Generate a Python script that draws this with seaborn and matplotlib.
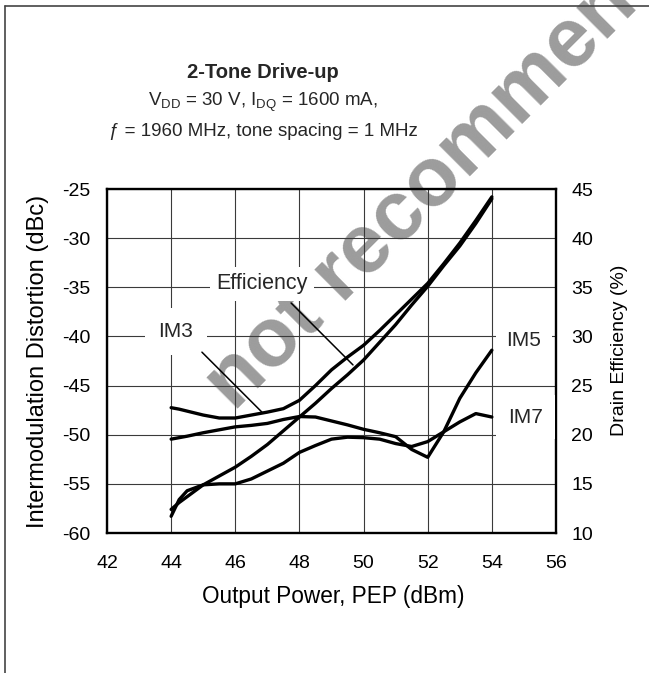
import matplotlib
matplotlib.use("Agg")
import matplotlib.pyplot as plt
from matplotlib.lines import Line2D
import pandas as pd
import seaborn as sns


# output power, PEP (dBm)
pout = [44, 44.25, 44.5, 45, 45.5, 46, 46.5, 47, 47.5, 48, 48.5, 49, 49.5,
        50, 50.5, 51, 51.5, 52, 52.5, 53, 53.5, 54]

# intermodulation distortion (dBc)
im3 = [-47.25, -47.4, -47.6, -48.0, -48.3, -48.3, -48.0, -47.7, -47.35, -46.5,
       -45.0, -43.4, -42.1, -40.9, -39.4, -37.8, -36.2, -34.6, -32.6, -30.5,
       -28.2, -25.8]
im5 = [-50.45, -50.3, -50.15, -49.8, -49.5, -49.2, -49.05, -48.85, -48.45, -48.15,
       -48.2, -48.6, -49.0, -49.45, -49.8, -50.2, -51.5, -52.3, -49.7, -46.3,
       -43.7, -41.4]
im7 = [-58.3, -56.6, -55.7, -55.1, -55.0, -55.0, -54.5, -53.7, -52.9, -51.8,
       -51.1, -50.45, -50.25, -50.3, -50.45, -50.9, -51.2, -50.7, -49.7, -48.7,
       -47.85, -48.2]

# drain efficiency (%)
eff = [12.4, 13.1, 13.7, 14.9, 15.8, 16.7, 17.8, 19.0, 20.4, 21.8,
       23.2, 24.7, 26.1, 27.6, 29.4, 31.2, 33.2, 35.1, 37.2, 39.2,
       41.5, 44.0]

x_ticks = list(range(42, 57, 2))
imd_ticks = list(range(-60, -24, 5))
eff_ticks = list(range(10, 46, 5))

W, H = 649, 673
AX_L, AX_R, AX_T, AX_B = 107, 556, 189, 533

sns.set_theme(style="white")
plt.rcParams["font.family"] = ["Liberation Sans", "DejaVu Sans"]
plt.rcParams["mathtext.fontset"] = "custom"
plt.rcParams["mathtext.rm"] = "Liberation Sans"
plt.rcParams["mathtext.it"] = "Liberation Sans:italic"
plt.rcParams["axes.unicode_minus"] = False

df = pd.DataFrame({"pout": pout, "IM3": im3, "IM5": im5, "IM7": im7, "eff": eff})

fig = plt.figure(figsize=(W / 100, H / 100), dpi=100)
fig.patch.set_facecolor("white")
ax = fig.add_axes([AX_L / W, 1 - AX_B / H, (AX_R - AX_L) / W, (AX_B - AX_T) / H])
ax.set_facecolor("none")

for col in ["IM3", "IM5", "IM7"]:
    sns.lineplot(data=df, x="pout", y=col, ax=ax, color="black", lw=2.4, zorder=2)

ax.set_xlim(42, 56)
ax.set_ylim(-60, -25)
ax.set_xticks(x_ticks)
ax.set_yticks(imd_ticks)
ax.grid(True, color="#3a3a3a", lw=0.8)
ax.set_axisbelow(True)
ax.tick_params(axis="x", length=0, pad=16, labelsize=14, colors="black")
ax.tick_params(axis="y", length=0, pad=12, labelsize=14, colors="black")
for sp in ax.spines.values():
    sp.set_visible(True)
    sp.set_color("black")
    sp.set_linewidth(1.7)

ax.set_xlabel("Output Power, PEP (dBm)", fontsize=16.3, va="center", color="black")
ax.xaxis.set_label_coords((333 - AX_L) / (AX_R - AX_L), (AX_B - 597) / (AX_B - AX_T))
ax.set_ylabel("Intermodulation Distortion (dBc)", fontsize=17, va="center", color="black")
ax.yaxis.set_label_coords((38 - AX_L) / (AX_R - AX_L), 0.5)

ax2 = ax.twinx()
sns.lineplot(data=df, x="pout", y="eff", ax=ax2, color="black", lw=2.4)
ax2.set_ylim(10, 45)
ax2.set_yticks(eff_ticks)
ax2.grid(False)
ax2.tick_params(axis="y", length=0, pad=11, labelsize=14, colors="black")
ax2.set_ylabel("Drain Efficiency (%)", fontsize=14, va="center", color="black")
ax2.yaxis.set_label_coords((620 - AX_L) / (AX_R - AX_L), (AX_B - 350) / (AX_B - AX_T))
for sp in ax2.spines.values():
    sp.set_visible(False)

# curve labels with leader lines
ax.text(46.83, -34.66, "Efficiency", fontsize=15.5, ha="center", va="center",
        bbox=dict(boxstyle="square,pad=0.3", fc="white", ec="none"), zorder=3)
ax.text(44.15, -39.5, "IM3", fontsize=15, ha="center", va="center",
        bbox=dict(boxstyle="square,pad=0.65", fc="white", ec="none"), zorder=3)
ax.text(55.0, -40.4, "IM5", fontsize=15, ha="center", va="center",
        bbox=dict(boxstyle="square,pad=0.5", fc="white", ec="none"), zorder=3)
ax.text(55.05, -48.2, "IM7", fontsize=15, ha="center", va="center",
        bbox=dict(boxstyle="square,pad=0.6", fc="white", ec="none"), zorder=3)
ax.annotate("", xy=(49.67, -42.9), xytext=(47.74, -36.6),
            arrowprops=dict(arrowstyle="-", lw=1.1, color="black", shrinkA=0, shrinkB=0))
ax.annotate("", xy=(46.83, -47.7), xytext=(44.96, -41.6),
            arrowprops=dict(arrowstyle="-", lw=1.1, color="black", shrinkA=0, shrinkB=0))

# titles
fig.text(263 / W, 1 - 72 / H, "2-Tone Drive-up", fontsize=14.5, weight="bold",
         ha="center", va="center")
fig.text(263 / W, 1 - 102 / H, r"V$_{\mathrm{DD}}$ = 30 V, I$_{\mathrm{DQ}}$ = 1600 mA,",
         fontsize=13.5, ha="center", va="center")
fig.text(263 / W, 1 - 132 / H, "ƒ = 1960 MHz, tone spacing = 1 MHz",
         fontsize=13.5, ha="center", va="center")

# watermark
fig.text(234 / W, 1 - 412 / H, "not recommended", rotation=45, rotation_mode="anchor",
         ha="left", va="baseline", fontsize=60, weight="bold", color="#9c9c9c", zorder=-1)

# outer frame (left and top edges)
fig.add_artist(Line2D([4.5 / W, 4.5 / W], [0, 1 - 6 / H], transform=fig.transFigure,
                      color="#444444", lw=1.2))
fig.add_artist(Line2D([4.5 / W, 1], [1 - 6 / H, 1 - 6 / H], transform=fig.transFigure,
                      color="#444444", lw=1.2))

fig.savefig("out.png", dpi=100)
